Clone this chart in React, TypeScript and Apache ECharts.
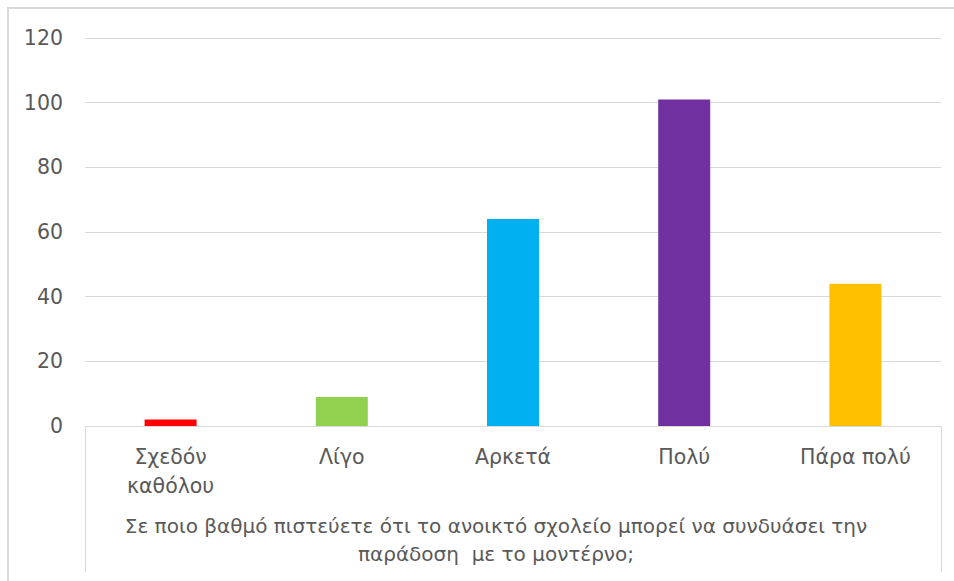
import React, { useEffect, useRef } from "react";
import * as echarts from "echarts";

const categories = ["Σχεδόν\nκαθόλου", "Λίγο", "Αρκετά", "Πολύ", "Πάρα πολύ"];
const values = [2, 9, 64, 101, 44];
const barColors = ["#ff0000", "#92d050", "#00b0f0", "#7030a0", "#ffc000"];
const axisTitle = "Σε ποιο βαθμό πιστεύετε ότι το ανοικτό σχολείο μπορεί να συνδυάσει την\nπαράδοση  με το μοντέρνο;";

const FONT = "DejaVu Sans";
const TXT = "#595959";

export default function App() {
  const ref = useRef<HTMLDivElement>(null);
  useEffect(() => {
    const chart = echarts.init(ref.current!, null, { renderer: "svg" });
    chart.setOption({
      animation: false,
      backgroundColor: "#ffffff",
      grid: { left: 85, right: 13, top: 38, bottom: 155 },
      xAxis: {
        type: "category",
        data: categories,
        axisLine: { show: true, lineStyle: { color: "#d9d9d9", width: 1 } },
        axisTick: { show: false },
        axisLabel: { color: TXT, fontFamily: FONT, fontSize: 20.5, lineHeight: 29, margin: 16 },
        name: axisTitle,
        nameLocation: "middle",
        nameGap: 86,
        nameTextStyle: { color: TXT, fontFamily: FONT, fontSize: 20, lineHeight: 28, padding: [0, 34, 0, 0] },
      },
      yAxis: {
        type: "value",
        min: 0,
        max: 120,
        interval: 20,
        axisLine: { show: false },
        axisTick: { show: false },
        splitLine: { lineStyle: { color: "#d9d9d9", width: 1 } },
        axisLabel: { color: TXT, fontFamily: FONT, fontSize: 20.5, margin: 22 },
      },
      series: [
        {
          type: "bar",
          barWidth: 52,
          data: values.map((v, i) => ({ value: v, itemStyle: { color: barColors[i] } })),
        },
      ],
      graphic: [
        {
          type: "rect",
          shape: { x: 8, y: 8, width: 980, height: 620 },
          style: { fill: "none", stroke: "#d9d9d9", lineWidth: 2 },
          silent: true,
        },
        {
          type: "line",
          shape: { x1: 85.5, y1: 426, x2: 85.5, y2: 572 },
          style: { stroke: "#d9d9d9", lineWidth: 1 },
          silent: true,
        },
        {
          type: "line",
          shape: { x1: 941.5, y1: 426, x2: 941.5, y2: 572 },
          style: { stroke: "#d9d9d9", lineWidth: 1 },
          silent: true,
        },
      ],
    });
    return () => chart.dispose();
  }, []);
  return (
    <div
      ref={ref}
      style={{ position: "fixed", left: 0, top: 0, width: 954, height: 581, background: "#fff" }}
    />
  );
}
